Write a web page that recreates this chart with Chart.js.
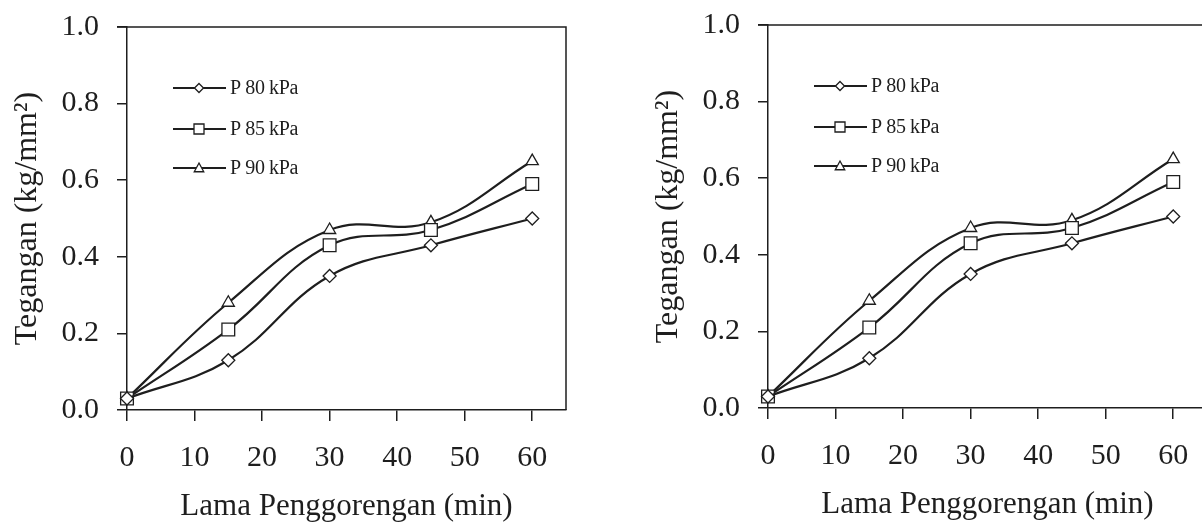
<!DOCTYPE html>
<html>
<head>
<meta charset="utf-8">
<script src="https://cdn.jsdelivr.net/npm/chart.js@4.4.0/dist/chart.umd.min.js"></script>
<style>
  html, body { margin: 0; padding: 0; background: #fff; overflow: hidden; }
  body { width: 1202px; height: 525px; position: relative; }
  .box { position: absolute; width: 600px; height: 525px; }
</style>
</head>
<body>
<div class="box" style="left:0;top:0"><canvas id="chartLeft" width="600" height="525"></canvas></div>
<div class="box" style="left:641px;top:-2px"><canvas id="chartRight" width="600" height="525"></canvas></div>
<script>
// data
const minutes = [0, 15, 30, 45, 60];
const p80 = [0.03, 0.13, 0.35, 0.43, 0.50];
const p85 = [0.03, 0.21, 0.43, 0.47, 0.59];
const p90 = [0.03, 0.28, 0.47, 0.49, 0.65];
const seriesLabels = ['P 80 kPa', 'P 85 kPa', 'P 90 kPa'];
const xTicks = [0, 10, 20, 30, 40, 50, 60];
const yTicks = [0, 0.2, 0.4, 0.6, 0.8, 1.0];

const ink = '#1e1e1e';
const serif = '"Liberation Serif", "Times New Roman", serif';

function drawMarker(ctx, style, x, y, r) {
  ctx.beginPath();
  if (style === 'rectRot') {
    ctx.moveTo(x, y - r); ctx.lineTo(x + r, y); ctx.lineTo(x, y + r); ctx.lineTo(x - r, y);
  } else if (style === 'rect') {
    ctx.rect(x - r, y - r, 2 * r, 2 * r);
  } else {
    ctx.moveTo(x, y - r); ctx.lineTo(x + r * 0.95, y + r * 0.75); ctx.lineTo(x - r * 0.95, y + r * 0.75);
  }
  ctx.closePath();
  ctx.fillStyle = '#fff';
  ctx.fill();
  ctx.lineWidth = 1.3;
  ctx.strokeStyle = ink;
  ctx.stroke();
}

const insideLegend = {
  id: 'insideLegend',
  afterDatasetsDraw(chart) {
    const ctx = chart.ctx, a = chart.chartArea;
    const rows = [61, 102, 141];
    const sizes = [4.5, 5, 5];
    chart.data.datasets.forEach((ds, i) => {
      const y = a.top + rows[i];
      ctx.save();
      ctx.strokeStyle = ink;
      ctx.lineWidth = 2.2;
      ctx.beginPath();
      ctx.moveTo(a.left + 46, y);
      ctx.lineTo(a.left + 99, y);
      ctx.stroke();
      drawMarker(ctx, ds.pointStyle, a.left + 72, y, sizes[i]);
      ctx.fillStyle = ink;
      ctx.font = '20px ' + serif;
      ctx.letterSpacing = '-0.4px';
      ctx.textBaseline = 'middle';
      ctx.fillText(ds.label, a.left + 103, y + 1);
      ctx.restore();
    });
  }
};

const frame = {
  id: 'frame',
  afterDraw(chart) {
    const ctx = chart.ctx, a = chart.chartArea;
    ctx.save();
    ctx.strokeStyle = ink;
    ctx.lineWidth = 1.5;
    ctx.beginPath();
    ctx.moveTo(a.left - 10, a.top);
    ctx.lineTo(a.right, a.top);
    ctx.lineTo(a.right, a.bottom);
    ctx.stroke();
    ctx.restore();
  }
};

function series(label, values, style, radius) {
  return {
    label: label,
    data: values.map((v, i) => ({ x: minutes[i], y: v })),
    borderColor: ink,
    borderWidth: 2.2,
    tension: 0.4,
    pointStyle: style,
    pointRadius: radius,
    pointBackgroundColor: '#fff',
    pointBorderColor: ink,
    pointBorderWidth: 1.3,
    clip: false,
    fill: false
  };
}

function makeChart(id) {
  return new Chart(document.getElementById(id), {
    type: 'line',
    data: {
      datasets: [
        series(seriesLabels[0], p80, 'rectRot', 6.5),
        series(seriesLabels[1], p85, 'rect', 9),
        series(seriesLabels[2], p90, 'triangle', 7)
      ]
    },
    options: {
      responsive: false,
      animation: false,
      layout: { padding: { top: 27, right: 34, left: 0, bottom: 0 } },
      plugins: { legend: { display: false }, tooltip: { enabled: false } },
      scales: {
        x: {
          type: 'linear',
          min: 0,
          max: 65,
          afterBuildTicks: (axis) => { axis.ticks = xTicks.map(v => ({ value: v })); },
          afterFit: (axis) => { axis.height = 115; axis.paddingLeft = 0; axis.paddingRight = 0; },
          ticks: { color: ink, font: { family: serif, size: 30 }, padding: 19, maxRotation: 0 },
          grid: { drawOnChartArea: false, drawTicks: true, tickLength: 11, color: ink, lineWidth: 1.5 },
          border: { display: true, color: ink, width: 1.5 },
          title: {
            display: true,
            text: 'Lama Penggorengan (min)',
            color: ink,
            font: { family: serif, size: 31 },
            padding: { top: 0, bottom: 0 }
          }
        },
        y: {
          min: 0,
          max: 1,
          afterBuildTicks: (axis) => { axis.ticks = yTicks.map(v => ({ value: v })); },
          afterFit: (axis) => { axis.width = 127; axis.paddingTop = 0; axis.paddingBottom = 0; },
          ticks: {
            color: ink,
            font: { family: serif, size: 30 },
            padding: 18,
            callback: (v) => v.toFixed(1)
          },
          grid: { drawOnChartArea: false, drawTicks: true, tickLength: 10, color: ink, lineWidth: 1.5 },
          border: { display: true, color: ink, width: 1.5 },
          title: {
            display: true,
            text: 'Tegangan (kg/mm²)',
            color: ink,
            font: { family: serif, size: 32 },
            padding: { top: 8, bottom: 0 }
          }
        }
      }
    },
    plugins: [insideLegend, frame]
  });
}

makeChart('chartLeft');
makeChart('chartRight');
</script>
</body>
</html>
